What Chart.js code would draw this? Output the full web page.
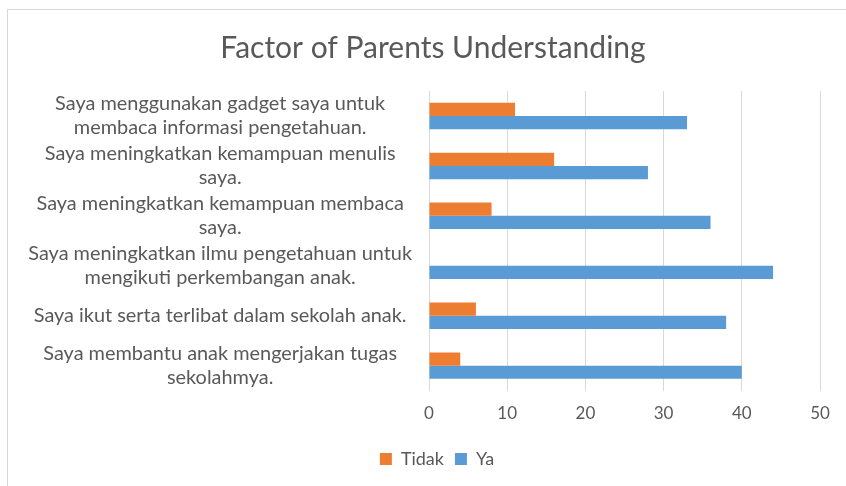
<!DOCTYPE html>
<html>
<head>
<meta charset="utf-8">
<script src="https://cdn.jsdelivr.net/npm/chart.js@4"></script>
<style>
  html, body { margin: 0; padding: 0; background: #fff; }
  #wrap { position: relative; width: 846px; height: 486px; }
  #frame { position: absolute; left: 7px; top: 9px; right: -2px; bottom: -2px; border-left: 1px solid #d9d9d9; border-top: 1px solid #d9d9d9; }
  canvas { position: absolute; left: 0; top: 0; }
</style>
</head>
<body>
<div id="wrap">
  <div id="frame"></div>
  <canvas id="chartCanvas" width="846" height="486"></canvas>
</div>
<script>
const categories = [
  ["Saya menggunakan gadget saya untuk", "membaca informasi pengetahuan."],
  ["Saya meningkatkan kemampuan menulis", "saya."],
  ["Saya meningkatkan kemampuan membaca", "saya."],
  ["Saya meningkatkan ilmu pengetahuan untuk", "mengikuti perkembangan anak."],
  "Saya ikut serta terlibat dalam sekolah anak.",
  ["Saya membantu anak mengerjakan tugas", "sekolahmya."]
];
const tidak = [11, 16, 8, 0, 6, 4];
const ya = [33, 28, 36, 44, 38, 40];
const xTicks = [0, 10, 20, 30, 40, 50];

const font = "Lato, 'Open Sans', sans-serif";
const grey = "#595959";

// title and legend sit centred over the plot in the original, not over the canvas
const nudge = {
  id: "nudge",
  afterLayout(chart) {
    chart.titleBlock.left += 18;
    chart.titleBlock.right += 18;
    chart.legend.left += 22;
    chart.legend.right += 22;
  }
};

const ctx = document.getElementById("chartCanvas").getContext("2d");
new Chart(ctx, {
  type: "bar",
  data: {
    labels: categories,
    datasets: [
      { label: "Tidak", data: tidak, backgroundColor: "#ed7d31" },
      { label: "Ya", data: ya, backgroundColor: "#5b9bd5" }
    ]
  },
  plugins: [nudge],
  options: {
    indexAxis: "y",
    responsive: false,
    animation: false,
    layout: { padding: { left: 10, right: 26, top: 24, bottom: 8 } },
    datasets: { bar: { categoryPercentage: 0.53, barPercentage: 1 } },
    plugins: {
      title: {
        display: true,
        text: "Factor of Parents Understanding",
        color: grey,
        font: { family: font, size: 30, weight: "normal" },
        padding: { top: 6, bottom: 25 }
      },
      legend: {
        position: "bottom",
        labels: {
          color: grey,
          font: { family: font, size: 18 },
          boxWidth: 12,
          boxHeight: 12,
          padding: 11
        }
      },
      tooltip: { enabled: false }
    },
    scales: {
      x: {
        min: 0,
        max: 50,
        afterBuildTicks: (axis) => { axis.ticks = xTicks.map((v) => ({ value: v })); },
        afterFit: (axis) => { axis.height += 2; },
        grid: { color: "#d9d9d9", drawTicks: false },
        border: { display: false },
        ticks: { color: grey, font: { family: font, size: 17 }, padding: 13 }
      },
      y: {
        grid: { display: false },
        border: { display: true, color: "#d9d9d9" },
        afterFit: (axis) => { axis.width = 419; },
        ticks: {
          color: grey,
          font: { family: font, size: 19.9, lineHeight: 1.2 },
          crossAlign: "center",
          autoSkip: false,
          padding: 9
        }
      }
    }
  }
});
</script>
</body>
</html>
